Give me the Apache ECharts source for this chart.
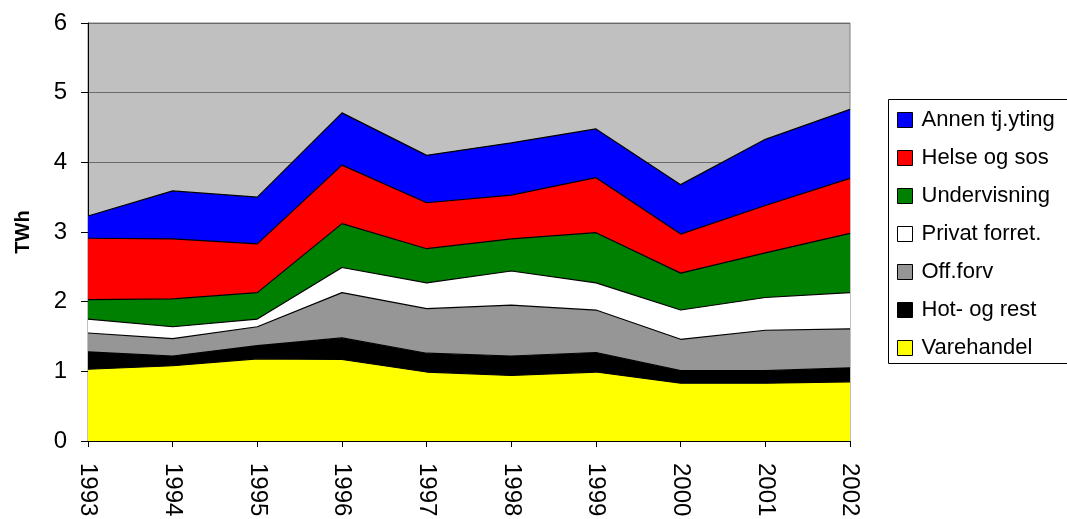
<!DOCTYPE html>
<html>
<head>
<meta charset="utf-8">
<script src="https://cdn.jsdelivr.net/npm/echarts@6/dist/echarts.min.js"></script>
<style>
  html, body { margin: 0; padding: 0; background: #fff; }
  #chart { width: 1067px; height: 519px; }
</style>
</head>
<body>
<div id="chart"></div>
<script>
// Energy use by service sector, TWh (stacked)
const years = ['1993', '1994', '1995', '1996', '1997', '1998', '1999', '2000', '2001', '2002'];

const varehandel   = [1.03, 1.08, 1.18, 1.17, 0.99, 0.94, 0.99, 0.83, 0.83, 0.85];
const hotOgRest    = [0.25, 0.14, 0.19, 0.31, 0.27, 0.28, 0.28, 0.18, 0.18, 0.20];
const offForv      = [0.27, 0.25, 0.27, 0.65, 0.64, 0.73, 0.61, 0.45, 0.58, 0.56];
const privatForret = [0.20, 0.17, 0.11, 0.36, 0.37, 0.49, 0.39, 0.42, 0.47, 0.52];
const undervisning = [0.28, 0.40, 0.38, 0.63, 0.49, 0.46, 0.72, 0.53, 0.64, 0.85];
const helseOgSos   = [0.88, 0.86, 0.70, 0.84, 0.66, 0.63, 0.79, 0.56, 0.68, 0.79];
const annenTjYting = [0.32, 0.69, 0.67, 0.75, 0.68, 0.75, 0.70, 0.71, 0.95, 0.99];

const yTicks = [0, 1, 2, 3, 4, 5, 6];

const FONT = 'Liberation Sans, Arial, sans-serif';

// bottom-to-top stacking order
const layers = [
  { name: 'Varehandel',     data: varehandel,   color: '#FFFF00' },
  { name: 'Hot- og rest',   data: hotOgRest,    color: '#000000' },
  { name: 'Off.forv',       data: offForv,      color: '#969696' },
  { name: 'Privat forret.', data: privatForret, color: '#FFFFFF' },
  { name: 'Undervisning',   data: undervisning, color: '#008000' },
  { name: 'Helse og sos',   data: helseOgSos,   color: '#FF0000' },
  { name: 'Annen tj.yting', data: annenTjYting, color: '#0000FF' }
];

const chart = echarts.init(document.getElementById('chart'), null, { renderer: 'canvas' });

chart.setOption({
  animation: false,
  backgroundColor: '#ffffff',
  graphic: [{
    type: 'rect',
    left: 888,
    top: 99,
    shape: { width: 200, height: 264 },
    style: { fill: '#ffffff', stroke: '#000000', lineWidth: 1 },
    z: 0
  }],
  grid: {
    left: 88, right: 217, top: 23, bottom: 78,
    outerBoundsMode: 'none',
    containLabel: false,
    show: true,
    backgroundColor: '#C0C0C0',
    borderColor: '#808080',
    borderWidth: 1
  },
  legend: {
    orient: 'vertical',
    left: 897,
    top: 109,
    padding: 0,
    itemWidth: 15,
    itemHeight: 15,
    itemGap: 16,
    icon: 'rect',
    z: 5,
    data: layers.map(l => l.name).reverse(),
    itemStyle: { borderColor: '#000000', borderWidth: 1 },
    textStyle: { fontSize: 22, lineHeight: 22, color: '#000', fontFamily: FONT, padding: [0, 0, 0, 4] }
  },
  xAxis: {
    type: 'category',
    data: years,
    boundaryGap: false,
    axisLine: { lineStyle: { color: '#000', width: 1 } },
    axisTick: { show: true, length: 6, lineStyle: { color: '#000' } },
    axisLabel: { rotate: -90, fontSize: 24, color: '#000', fontFamily: FONT, margin: 22, interval: 0 },
    splitLine: { show: false }
  },
  yAxis: {
    type: 'value',
    min: yTicks[0],
    max: yTicks[yTicks.length - 1],
    interval: 1,
    name: 'TWh',
    nameLocation: 'middle',
    nameRotate: 90,
    nameGap: 55,
    nameTextStyle: { fontSize: 20, fontWeight: 'bold', color: '#000', fontFamily: FONT },
    axisLine: { show: true, lineStyle: { color: '#000', width: 1 } },
    axisTick: { show: true, length: 7, lineStyle: { color: '#000' } },
    axisLabel: { fontSize: 24, color: '#000', fontFamily: FONT, margin: 21 },
    splitLine: { show: true, lineStyle: { color: '#6a6a6a', width: 1 } }
  },
  series: layers.map(l => ({
    name: l.name,
    type: 'line',
    stack: 'total',
    data: l.data,
    symbol: 'none',
    showSymbol: false,
    lineStyle: { color: '#000000', width: 1.2 },
    itemStyle: { color: l.color },
    areaStyle: { color: l.color, opacity: 1 },
    emphasis: { disabled: true }
  }))
});
</script>
</body>
</html>
